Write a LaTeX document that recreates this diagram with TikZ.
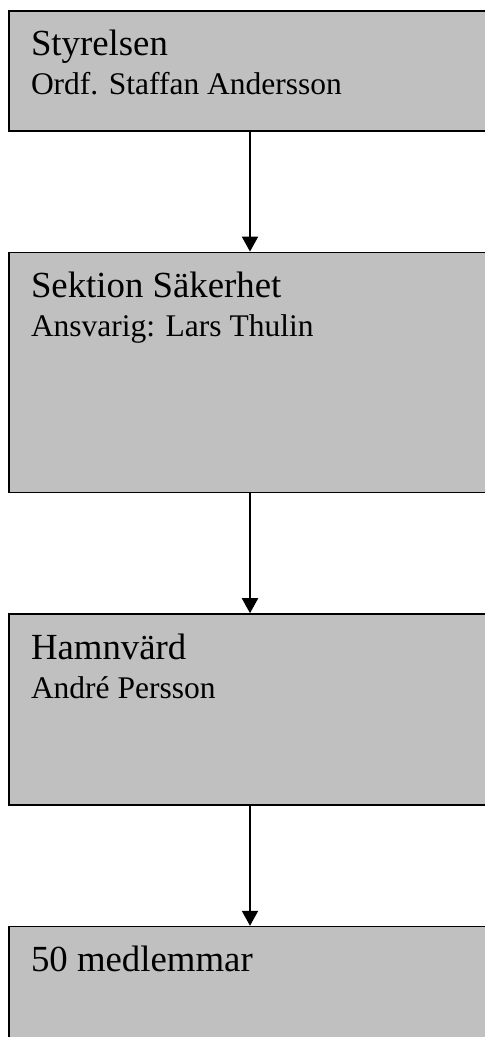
\documentclass[tikz,border=0pt]{standalone}
\usepackage{fontspec}
\setmainfont{Liberation Serif}
\usetikzlibrary{positioning,arrows.meta}
\definecolor{boxgray}{RGB}{192,192,192}

% text of one box: height, heading, name
\newcommand{\boxtext}[3]{\parbox[t][#1][t]{438pt}{\fontsize{36.8}{39}\selectfont
  \rule{0pt}{45pt}#2\\\fontsize{31.5}{39}\selectfont #3}}

\begin{document}
\begin{tikzpicture}[x=1pt, y=1pt, node distance=120pt,
  org/.style={rectangle, draw, line width=1.6pt, fill=boxgray, anchor=north,
    inner xsep=22pt, inner ysep=0pt},
  arr/.style={-{Triangle[width=16pt,length=15pt]}, line width=2pt}]
  \clip (0,0) rectangle (485,-1037);
  \node[org] (styr) at (250,-10) {\boxtext{120pt}{Styrelsen}{Ordf. Staffan Andersson}};
  \node[org, below=of styr] (sak) {\boxtext{240pt}{Sektion Säkerhet}{Ansvarig: Lars Thulin}};
  \node[org, below=of sak] (hamn) {\boxtext{191pt}{Hamnvärd}{André Persson}};
  \node[org, below=of hamn] (medl) {\boxtext{160pt}{50 medlemmar}{}};
  \draw[arr] (styr) -- (sak);
  \draw[arr] (sak) -- (hamn);
  \draw[arr] (hamn) -- (medl);
\end{tikzpicture}
\end{document}
